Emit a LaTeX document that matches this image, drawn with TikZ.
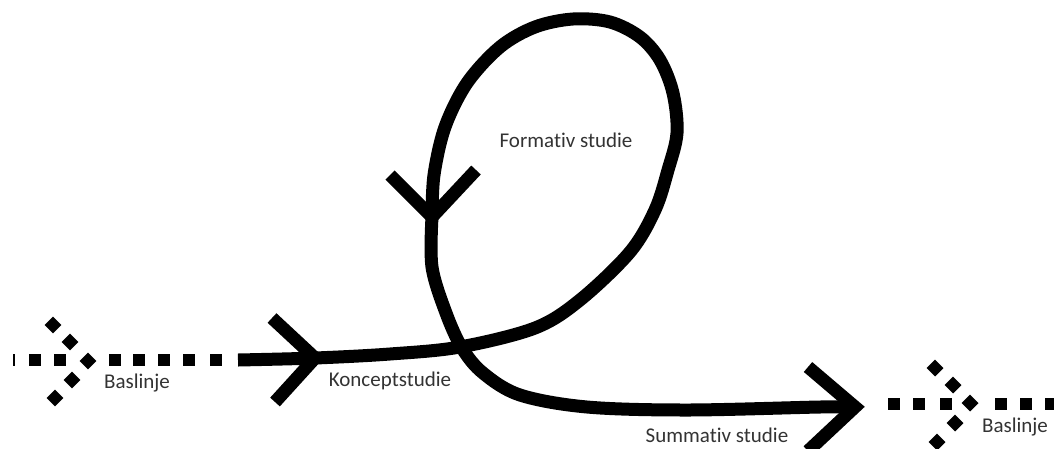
\documentclass[tikz,border=0pt]{standalone}
\usepackage{fontspec}
\setmainfont{Carlito}[Ligatures={NoCommon}]
\begin{document}
\begin{tikzpicture}[x=1pt,y=-1pt,
  flow/.style={line width=13pt,line cap=butt,line join=round},
  chevron/.style={line width=13pt,line cap=butt,line join=miter},
  label/.style={inner sep=0pt,text=black!80,font=\fontsize{21}{25}\selectfont}]
\useasboundingbox (0,0) rectangle (1054,448);
\clip (0,0) rectangle (1054,448);

% square dots of the dotted baseline arrows
\newcommand{\sqdot}[2]{\fill (#1-6,#2-6) rectangle (#1+6,#2+6);}

% left dotted baseline arrow
\fill (13,354) rectangle (15,366);
\foreach \x in {35,59.5,115,139,164,189,216} {\sqdot{\x}{360}}
\foreach \p in {(53,325),(70,342),(88,361),(72,380),(55,398)} {
  \path \p coordinate (d);
  \fill[shift={(d)},rotate=45] (-6,-6) rectangle (6,6);}
\node[label] (base1) at (137,383) {Baslinje};

% right dotted baseline arrow
\foreach \x in {894,919,946,1001,1026,1051} {\sqdot{\x}{404}}
\foreach \p in {(935,368),(953,385),(970,403),(955,423),(937,442)} {
  \path \p coordinate (d);
  \fill[shift={(d)},rotate=45] (-6,-6) rectangle (6,6);}
\node[label] (base2) at (1015,427) {Baslinje};

% key points of the study path
\coordinate (start) at (238,360);
\coordinate (konc) at (315,358);
\coordinate (loopTip) at (432,217);
\coordinate (end) at (855,407);

% concept study leading into the formative loop
\draw[flow] plot[smooth,tension=0.55] coordinates {
  (start) (konc) (390,354) (460,347) (535,328) (580,300) (630,252)
  (655,210) (668,170) (677,133) (673,93) (660,60) (640,37) (610,22)
  (573,19) (535,27) (500,47) (467,83) (445,127) (434,175) (loopTip)};

% out of the loop towards the summative study
\draw[flow] plot[smooth,tension=0.55] coordinates {
  (loopTip) (432,267) (446,313) (462,348) (483,373) (520,395)
  (587,407) (687,410) (820,407) (end)};

% arrow heads
\draw[chevron] (272,318) -- (konc) -- (275,402);
\draw[chevron] (390,175) -- (loopTip) -- (476,170);
\draw[chevron] (808,367) -- (end) -- (808,451);

% labels
\node[label] (konctext) at (390,381) {Konceptstudie};
\node[label] (formtext) at (566,140) {Formativ studie};
\node[label] (sumtext) at (717,435) {Summativ studie};
\end{tikzpicture}
\end{document}
